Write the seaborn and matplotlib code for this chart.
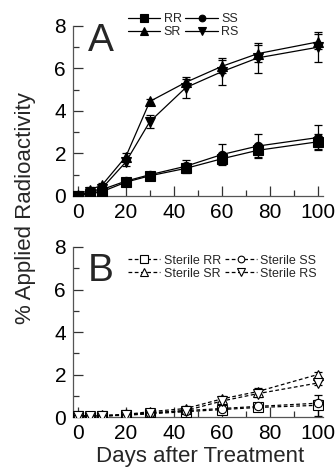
import matplotlib
matplotlib.use("Agg")
import matplotlib.pyplot as plt
import seaborn as sns
import pandas as pd

# data
days = [0, 5, 10, 20, 30, 45, 60, 75, 100]

rr = [0.0, 0.1, 0.2, 0.65, 0.95, 1.3, 1.75, 2.15, 2.55]
ss = [0.0, 0.15, 0.3, 0.7, 1.0, 1.4, 1.95, 2.35, 2.75]
sr = [0.05, 0.3, 0.5, 1.85, 4.45, 5.35, 6.1, 6.7, 7.25]
rs = [0.0, 0.2, 0.35, 1.6, 3.5, 5.1, 5.85, 6.5, 7.0]
rr_err = [0, 0.05, 0.05, 0.1, 0.1, 0.15, 0.25, 0.3, 0.35]
ss_err = [0, 0.05, 0.05, 0.1, 0.1, 0.3, 0.5, 0.55, 0.6]
sr_err = [0, 0.1, 0.1, 0.15, 0.1, 0.15, 0.3, 0.4, 0.35]
rs_err = [0, 0.1, 0.1, 0.2, 0.3, 0.5, 0.65, 0.7, 0.7]

st_rr = [0.05, 0.02, 0.05, 0.08, 0.15, 0.25, 0.35, 0.45, 0.55]
st_ss = [0.05, 0.05, 0.05, 0.1, 0.18, 0.3, 0.4, 0.5, 0.65]
st_sr = [0.05, 0.05, 0.08, 0.12, 0.25, 0.4, 0.85, 1.2, 2.0]
st_rs = [0.05, 0.05, 0.05, 0.1, 0.2, 0.3, 0.75, 1.1, 1.6]
st_rr_err = [0.02, 0.02, 0.02, 0.03, 0.05, 0.05, 0.08, 0.1, 0.5]
st_ss_err = [0.02, 0.02, 0.02, 0.03, 0.05, 0.05, 0.08, 0.1, 0.15]
st_sr_err = [0.02, 0.02, 0.02, 0.03, 0.05, 0.1, 0.15, 0.15, 0.1]
st_rs_err = [0.02, 0.02, 0.02, 0.03, 0.05, 0.1, 0.15, 0.15, 0.1]

sns.set_style("ticks")
plt.rcParams['font.family'] = ['Liberation Sans', 'DejaVu Sans']

fig = plt.figure(figsize=(3.36, 4.75), dpi=100)
axA = fig.add_axes([0.2173, 0.5874, 0.743, 0.3579])
axB = fig.add_axes([0.2173, 0.1221, 0.743, 0.3579])

series_A = [("RR", rr, rr_err, "s"), ("SR", sr, sr_err, "^"),
            ("SS", ss, ss_err, "o"), ("RS", rs, rs_err, "v")]
series_B = [("Sterile RR", st_rr, st_rr_err, "s"), ("Sterile SR", st_sr, st_sr_err, "^"),
            ("Sterile SS", st_ss, st_ss_err, "o"), ("Sterile RS", st_rs, st_rs_err, "v")]

for ax, series, filled in [(axA, series_A, True), (axB, series_B, False)]:
    for name, vals, err, mk in series:
        ax.errorbar(days, vals, yerr=err, fmt="none", ecolor="black",
                    elinewidth=0.9, capsize=3, capthick=0.9, zorder=2)
        df = pd.DataFrame({"day": days, "val": vals})
        sns.lineplot(data=df, x="day", y="val", ax=ax, color="black",
                     linewidth=0.9, linestyle="-" if filled else (0, (3, 2)),
                     marker=mk, markersize=6.5 if mk != "o" else 6,
                     mfc="black" if filled else "white", mec="black",
                     mew=0.8, label=name, zorder=3)

    ax.set_xlim(-2, 102)
    ax.set_ylim(0, 8)
    ax.set_xticks([0, 20, 40, 60, 80, 100])
    ax.set_xticks([10, 30, 50, 70, 90], minor=True)
    ax.set_yticks([0, 2, 4, 6, 8])
    ax.set_yticks([1, 3, 5, 7], minor=True)
    ax.tick_params(axis="both", which="major", direction="in", length=7,
                   width=0.9, labelsize=15, pad=5, colors="#333333",
                   labelcolor="black")
    ax.tick_params(axis="both", which="minor", direction="in", length=4,
                   width=0.9, colors="#333333")
    ax.set_xlabel("")
    ax.set_ylabel("")
    for s in ["top", "right"]:
        ax.spines[s].set_visible(False)
    for s in ["left", "bottom"]:
        ax.spines[s].set_color("#555555")
        ax.spines[s].set_linewidth(0.9)

legA = axA.legend(loc="upper left", bbox_to_anchor=(0.19, 1.12), ncol=2,
                  frameon=False, fontsize=9, handlelength=2.6,
                  handletextpad=0.25, columnspacing=0.3, labelspacing=0.1,
                  borderpad=0.1, markerscale=0.8)
legB = axB.legend(loc="upper left", bbox_to_anchor=(0.19, 1.0), ncol=2,
                  frameon=False, fontsize=9, handlelength=2.6,
                  handletextpad=0.25, columnspacing=0.3, labelspacing=0.1,
                  borderpad=0.1, markerscale=0.8)

axA.text(0.06, 0.91, "A", transform=axA.transAxes, fontsize=28,
         va="center", ha="left")
axB.text(0.06, 0.856, "B", transform=axB.transAxes, fontsize=28,
         va="center", ha="left")

fig.text(0.075, 0.563, "% Applied Radioactivity", rotation=90,
         ha="center", va="center", fontsize=16)
fig.text(0.595, 0.038, "Days after Treatment", ha="center",
         va="center", fontsize=16)

fig.savefig("out.png", dpi=100)
